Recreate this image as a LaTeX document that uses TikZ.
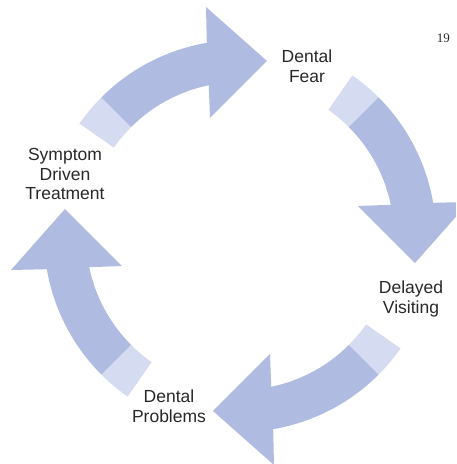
\documentclass[tikz,border=0pt]{standalone}
\usepackage{fontspec}
\setmainfont{Liberation Serif}
\newfontfamily\labelfont{Liberation Sans}
\definecolor{cycleblue}{RGB}{175,187,225}
\definecolor{cyclepale}{RGB}{213,219,240}
\definecolor{labelgray}{RGB}{40,40,40}

\tikzset{
  stage/.style={align=center, font=\labelfont\fontsize{17.5}{19.5}\selectfont, text=labelgray, inner sep=0pt},
}

\begin{document}
\begin{tikzpicture}[x=1pt,y=1pt]
  \useasboundingbox (-240,-228) rectangle (216,236);
  \clip (-240,-228) rectangle (216,236);

  % four curved arrows, one per quarter turn
  \foreach \turn in {0,1,2,3} {
    \begin{scope}[rotate=-90*\turn]
      % pale tail
      \fill[cyclepale] (145:196pt) arc[start angle=145, end angle=135, radius=196pt]
        -- (135:154pt) arc[start angle=135, end angle=145, radius=154pt] -- cycle;
      % shaft and head
      \fill[cycleblue] (135:196pt) arc[start angle=135, end angle=99.75, radius=196pt]
        -- (-34,229) -- (27,175) -- (-30,118)
        -- (101.7:154pt) arc[start angle=101.7, end angle=135, radius=154pt] -- cycle;
    \end{scope}
  }

  % stage labels
  \node[stage] (fear) at (67,170) {Dental\\Fear};
  \node[stage] (delay) at (171,-63) {Delayed\\Visiting};
  \node[stage] (problems) at (-71,-170) {Dental\\Problems};
  \node[stage] (symptom) at (-175,62) {Symptom\\Driven\\Treatment};

  % page number
  \node[font=\fontsize{13}{15}\selectfont, text=labelgray] (page) at (203.5,198) {19};
\end{tikzpicture}
\end{document}
